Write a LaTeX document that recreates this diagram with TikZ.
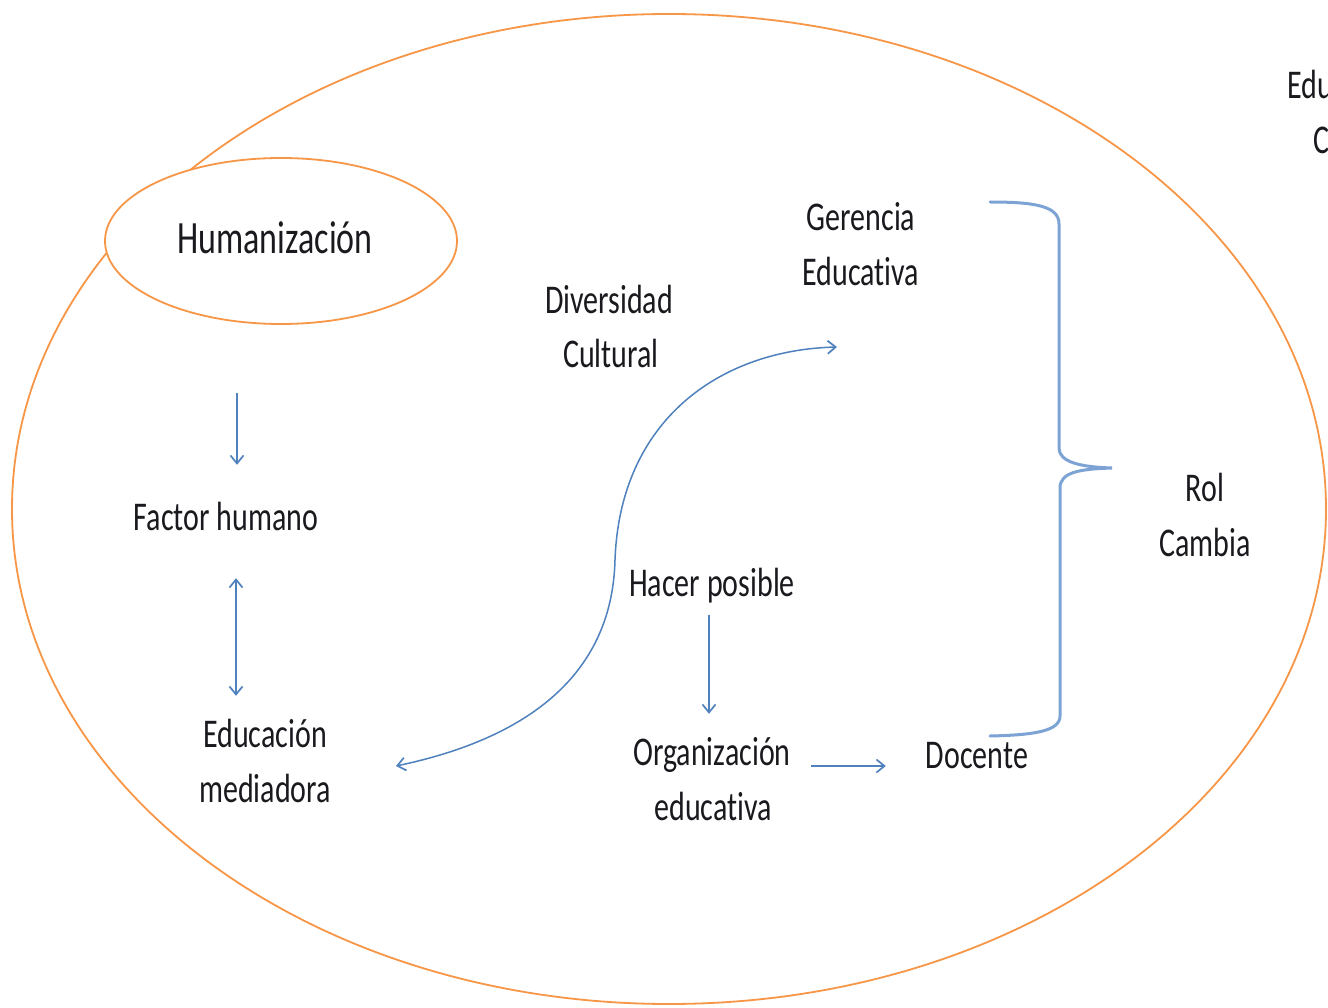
\documentclass[tikz,border=0pt]{standalone}
\usepackage{fontspec}
\usepackage{graphicx}
\setmainfont[Ligatures=NoCommon]{Carlito}
\usetikzlibrary{arrows.meta,shapes.geometric,calc}
\definecolor{orng}{RGB}{247,150,70}
\definecolor{blu}{RGB}{79,129,189}
\definecolor{blul}{RGB}{125,163,212}
\definecolor{ink}{RGB}{25,25,30}
\newcommand\vs[1]{\scalebox{1}[1.36]{#1}}
\begin{document}
\begin{tikzpicture}[x=1pt,y=-1pt,
  lbl/.style={inner sep=0pt, anchor=base, text=ink,
    font=\fontsize{30}{36}\selectfont, text height=30pt, text depth=10pt},
  big/.style={lbl, font=\fontsize{34}{40}\selectfont},
  arr/.style={draw=blu, line width=1.7pt,
    -{Straight Barb[length=8pt,width=13pt,line width=1.7pt]}},
  darr/.style={draw=blu, line width=1.7pt,
    {Straight Barb[length=8pt,width=13pt,line width=1.7pt]}-{Straight Barb[length=8pt,width=13pt,line width=1.7pt]}},
  oval/.style={draw=orng, line width=1.8pt}]
\useasboundingbox (0,0) rectangle (1328,1008);
\fill[white] (0,0) rectangle (1328,1008);

% outer ellipse
\draw[oval] (669,509) ellipse [x radius=657, y radius=495];
% Humanizacion ellipse
\node[oval, fill=white, ellipse, inner sep=0pt, minimum width=352pt, minimum height=166pt] (hum) at (281,241) {};
\node[big] (humt) at (275,254) {\vs{Humanización}};

% texts
\node[lbl] (div1) at (609,314) {\vs{Diversidad}};
\node[lbl] (div2) at (611,367) {\vs{Cultural}};
\node[lbl] (ger1) at (861,231) {\vs{Gerencia}};
\node[lbl] (ger2) at (861,286) {\vs{Educativa}};
\node[lbl] (fh) at (226,530) {\vs{Factor humano}};
\node[lbl] (hp) at (712,596) {\vs{Hacer posible}};
\node[lbl] (edu1) at (265,747) {\vs{Educación}};
\node[lbl] (edu2) at (265,802) {\vs{mediadora}};
\node[lbl] (org1) at (712,765) {\vs{Organización}};
\node[lbl] (org2) at (713,820) {\vs{educativa}};
\node[lbl] (doc) at (977,768) {\vs{Docente}};
\node[lbl] (rol1) at (1205,501) {\vs{Rol}};
\node[lbl] (rol2) at (1205,556) {\vs{Cambia}};
\node[lbl, anchor=base west] (edx) at (1287,99) {\vs{Edu}};
\node[lbl, anchor=base west] (cx) at (1313,154) {\vs{C}};

% connectors
\draw[arr, shorten <=68pt, shorten >=35pt] (hum.south -| 237,0) -- (fh.north -| 237,0);
\draw[darr, shorten <=38pt, shorten >=21pt] (fh.south -| 236,0) -- (edu1.north -| 236,0);
\draw[arr, shorten <=9pt, shorten >=21pt] (hp.south -| 709,0) -- (org1.north -| 709,0);
\draw[arr, shorten <=20pt, shorten >=40pt] (org1.east |- 0,766) -- (doc.west |- 0,766);

% S-curve between Educacion mediadora and Gerencia Educativa
\coordinate (sL) at (396,766);
\coordinate (sR) at (837,347);
\draw[darr, line width=1.5pt] (sL) .. controls (520,740) and (612,680) .. (615,560)
  .. controls (620,420) and (720,350) .. (sR);

% brace
\draw[blul, line width=3pt, line cap=round]
  (990,202) .. controls (1035,202) and (1059,206) .. (1059,224)
  -- (1059,448) .. controls (1059,462) and (1080,467) .. (1112,468)
  .. controls (1080,469) and (1060,472) .. (1060,488)
  -- (1060,716) .. controls (1060,731) and (1035,735) .. (990,736);
\end{tikzpicture}
\end{document}
